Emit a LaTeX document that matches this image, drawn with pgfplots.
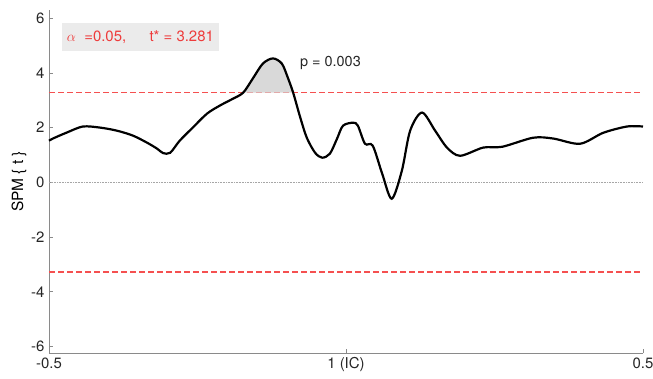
\documentclass[border=0pt]{standalone}
\usepackage{pgfplots}
\pgfplotsset{compat=1.18}
\usepackage{fontspec}
\setmainfont{TeX Gyre Heros}
\definecolor{thr}{RGB}{245,80,80}
\definecolor{txtred}{RGB}{238,59,59}
\definecolor{axgray}{RGB}{138,138,138}
\definecolor{boxgray}{RGB}{235,235,235}
\begin{document}
\begin{tikzpicture}
\begin{axis}[
  scale only axis, width=594bp, height=343bp,
  xmin=-0.5, xmax=0.5, ymin=-6.24, ymax=6.3,
  axis x line*=bottom, axis y line*=left,
  axis line style={axgray, line width=0.9pt, -},
  tick align=inside, major tick length=4bp,
  tick style={axgray, line width=0.7pt},
  xtick={-0.5,0,0.5}, xticklabels={-0.5,1 (IC),0.5},
  ytick={-6,-4,-2,0,2,4,6},
  /pgf/number format/assume math mode=true,
  ticklabel style={font=\fontsize{15}{17}\selectfont, text=black!85},
  xticklabel style={yshift=-1bp},
  yticklabel style={xshift=-1bp},
  ylabel={SPM \{ t \}}, ylabel style={font=\fontsize{15.5}{17}\selectfont, yshift=-2bp},
  clip=false,
]
% thresholds
\addplot[color=thr, dash pattern=on 5.5bp off 3.5bp, line width=1.4pt] coordinates {(-0.5,-3.281) (0.5,-3.281)};
\addplot[color=thr, dash pattern=on 5.5bp off 3.5bp, line width=1pt] coordinates {(-0.5,3.281) (0.5,3.281)};
% zero line
\addplot[color=black!35, densely dotted, line width=0.6pt] coordinates {(-0.5,0) (0.5,0)};
% suprathreshold cluster
\addplot[fill=black!15, draw=none, smooth] coordinates {
(-0.173,3.281) (-0.157,3.79) (-0.140,4.34) (-0.123,4.53) (-0.108,4.34) (-0.098,3.83) (-0.089,3.281)
};
% SPM{t}
\addplot[color=black, line width=2.2pt, smooth, tension=0.5] coordinates {
(-0.5,1.52) (-0.4935,1.60) (-0.470,1.82) (-0.443,2.04) (-0.414,2.00) (-0.386,1.89)
(-0.359,1.71) (-0.335,1.45) (-0.318,1.23) (-0.308,1.07) (-0.296,1.08) (-0.280,1.52)
(-0.258,2.00) (-0.234,2.51) (-0.212,2.81) (-0.190,3.06) (-0.173,3.28) (-0.157,3.79)
(-0.140,4.34) (-0.123,4.53) (-0.108,4.34) (-0.098,3.83) (-0.089,3.28) (-0.077,2.37)
(-0.066,1.63) (-0.052,1.08) (-0.040,0.90) (-0.027,1.05) (-0.015,1.60) (-0.005,2.07)
(0.012,2.18) (0.020,2.07) (0.032,1.41) (0.045,1.34) (0.061,0.31) (0.077,-0.60)
(0.094,0.42) (0.108,1.89) (0.128,2.55) (0.150,1.89) (0.170,1.27) (0.192,0.97)
(0.231,1.27) (0.263,1.30) (0.315,1.63) (0.349,1.60) (0.394,1.41) (0.433,1.81)
(0.473,2.04) (0.5,2.04)
};
\node[fill=boxgray, text=txtred, anchor=west, minimum height=28bp, inner xsep=5bp, font=\fontsize{15}{17}\selectfont]
  at (axis cs:-0.4785,5.32) {$\alpha$\ \ =0.05,\quad\ \ t* = 3.281};
\node[anchor=west, font=\fontsize{14.5}{16}\selectfont, text=black!85, inner sep=0pt]
  at (axis cs:-0.0775,4.38) {p = 0.003};
\end{axis}
\pgfresetboundingbox
\path[use as bounding box] (current axis.south west) ++(-49bp,-26bp) rectangle ++(653bp,379bp);
\end{tikzpicture}
\end{document}
